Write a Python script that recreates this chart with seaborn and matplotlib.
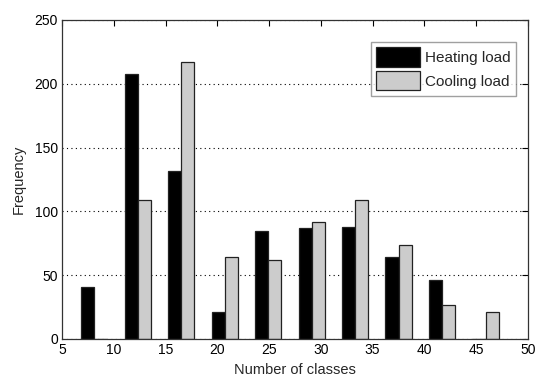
import numpy as np
import pandas as pd
import seaborn as sns
import matplotlib.pyplot as plt

# Werte
bin_centers = [8.1, 12.3, 16.5, 20.7, 24.9, 29.1, 33.3, 37.5, 41.7, 45.9]
heating = [41, 208, 132, 21, 85, 87, 88, 64, 46, 0]
cooling = [0, 109, 217, 64, 62, 92, 109, 74, 27, 21]
series_names = ["Heating load", "Cooling load"]
x_ticks = [5, 10, 15, 20, 25, 30, 35, 40, 45, 50]
y_ticks = [0, 50, 100, 150, 200, 250]

df = pd.DataFrame({
    "classes": bin_centers * 2,
    "freq": heating + cooling,
    "load": [series_names[0]] * len(heating) + [series_names[1]] * len(cooling),
})

sns.set_style("white")
plt.rcParams['font.family'] = ['Liberation Sans Narrow', 'Liberation Sans', 'DejaVu Sans']

fig = plt.figure(figsize=(5.36, 3.9), dpi=100)
ax = fig.add_axes([0.1157, 0.1308, 0.8693, 0.818])

sns.barplot(data=df, x="classes", y="freq", hue="load", native_scale=True,
            palette=["black", "#cccccc"], width=0.6, edgecolor="#222222",
            linewidth=0.9, saturation=1, ax=ax, legend=True)

ax.set_xlim(5, 50)
ax.set_ylim(0, 250)
ax.set_xticks(x_ticks)
ax.set_yticks(y_ticks)
ax.set_xticklabels([str(t) for t in x_ticks])
ax.set_yticklabels([str(t) for t in y_ticks])
ax.tick_params(direction="in", top=True, right=True, length=4, width=0.8,
               labelsize=10, colors="black", pad=3)
ax.yaxis.grid(True, color="black", linestyle=(0, (1, 3)), linewidth=0.8)
ax.set_axisbelow(True)
for s in ax.spines.values():
    s.set_color("#333333")
    s.set_linewidth(0.9)

ax.set_xlabel("Number of classes", fontsize=10.5, labelpad=4)
ax.set_ylabel("Frequency", fontsize=10.5, labelpad=6)

leg = ax.legend(loc="upper right", bbox_to_anchor=(0.974, 0.931), fontsize=11,
                frameon=True, fancybox=False, edgecolor="#888888",
                handlelength=2.9, handleheight=1.6, handletextpad=0.3,
                borderpad=0.35, labelspacing=0.25, borderaxespad=0)
leg.get_frame().set_linewidth(1.0)

fig.savefig("out.png", dpi=100)
